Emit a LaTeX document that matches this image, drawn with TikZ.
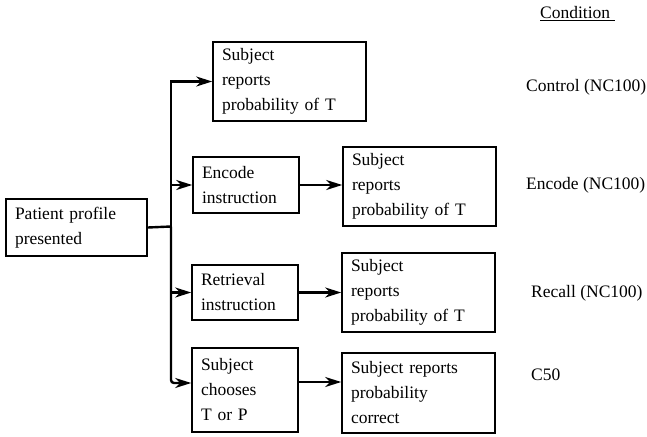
\documentclass[tikz,border=0pt]{standalone}
\usepackage{fontspec}
\setmainfont{Liberation Serif}
\usetikzlibrary{arrows.meta}
\begin{document}
\begin{tikzpicture}[x=1pt,y=-1pt,
  font=\fontsize{17.5}{25}\selectfont,
  box/.style={draw, line width=1.6pt, inner xsep=9pt, inner ysep=0pt, align=left,
    text width=#1, minimum width=#1+18pt},
  arr/.style={line width=2.4pt, -{Stealth[length=16pt,width=10pt,inset=5pt]}},
  conn/.style={line width=2.4pt},
  lab/.style={anchor=west, inner sep=0pt}]
\useasboundingbox (0,0) rectangle (647,436);
\node[box=123pt, minimum height=57pt] (pat) at (76.5,227.5) {Patient profile\\presented};
\node[box=135pt, minimum height=79pt] (b1) at (289.5,81.5) {Subject\\reports\\probability of T};
\node[box=88pt, minimum height=56pt] (enc) at (246,185) {Encode\\instruction};
\node[box=135pt, minimum height=79pt] (b2) at (419.5,186.5) {Subject\\reports\\probability of T};
\node[box=88pt, minimum height=55pt] (ret) at (245,292.5) {Retrieval\\instruction};
\node[box=135pt, minimum height=79pt] (b3) at (418.5,292.5) {Subject\\reports\\probability of T};
\node[box=88pt, minimum height=84pt] (cho) at (245,390) {Subject\\chooses\\T or P};
\node[box=135pt, minimum height=80pt] (b4) at (418.5,393) {Subject reports\\probability\\correct};
\coordinate (tj) at (171,226.5);
\draw[conn] (pat.east) -- (tj);
\draw[arr] (tj) |- (b1.west);
\draw[arr] (tj) |- (enc.west);
\draw[arr] (tj) |- (ret.west);
\draw[arr, rounded corners=3pt] (tj) |- ([yshift=7pt]cho.west);
\draw[arr] (enc.east) -- (enc.east -| b2.west);
\draw[arr] (ret.east) -- (ret.east -| b3.west);
\draw[arr] ([yshift=8pt]cho.east) -- ([yshift=8pt]cho.east -| b4.west);
\node[lab] (cond) at (540,14) {\underline{Condition\ }};
\node[lab] (c1) at (526,87) {Control (NC100)};
\node[lab] (c2) at (526,185) {Encode (NC100)};
\node[lab] (c3) at (531,293) {Recall (NC100)};
\node[lab] (c4) at (531,375) {C50};
\end{tikzpicture}
\end{document}
